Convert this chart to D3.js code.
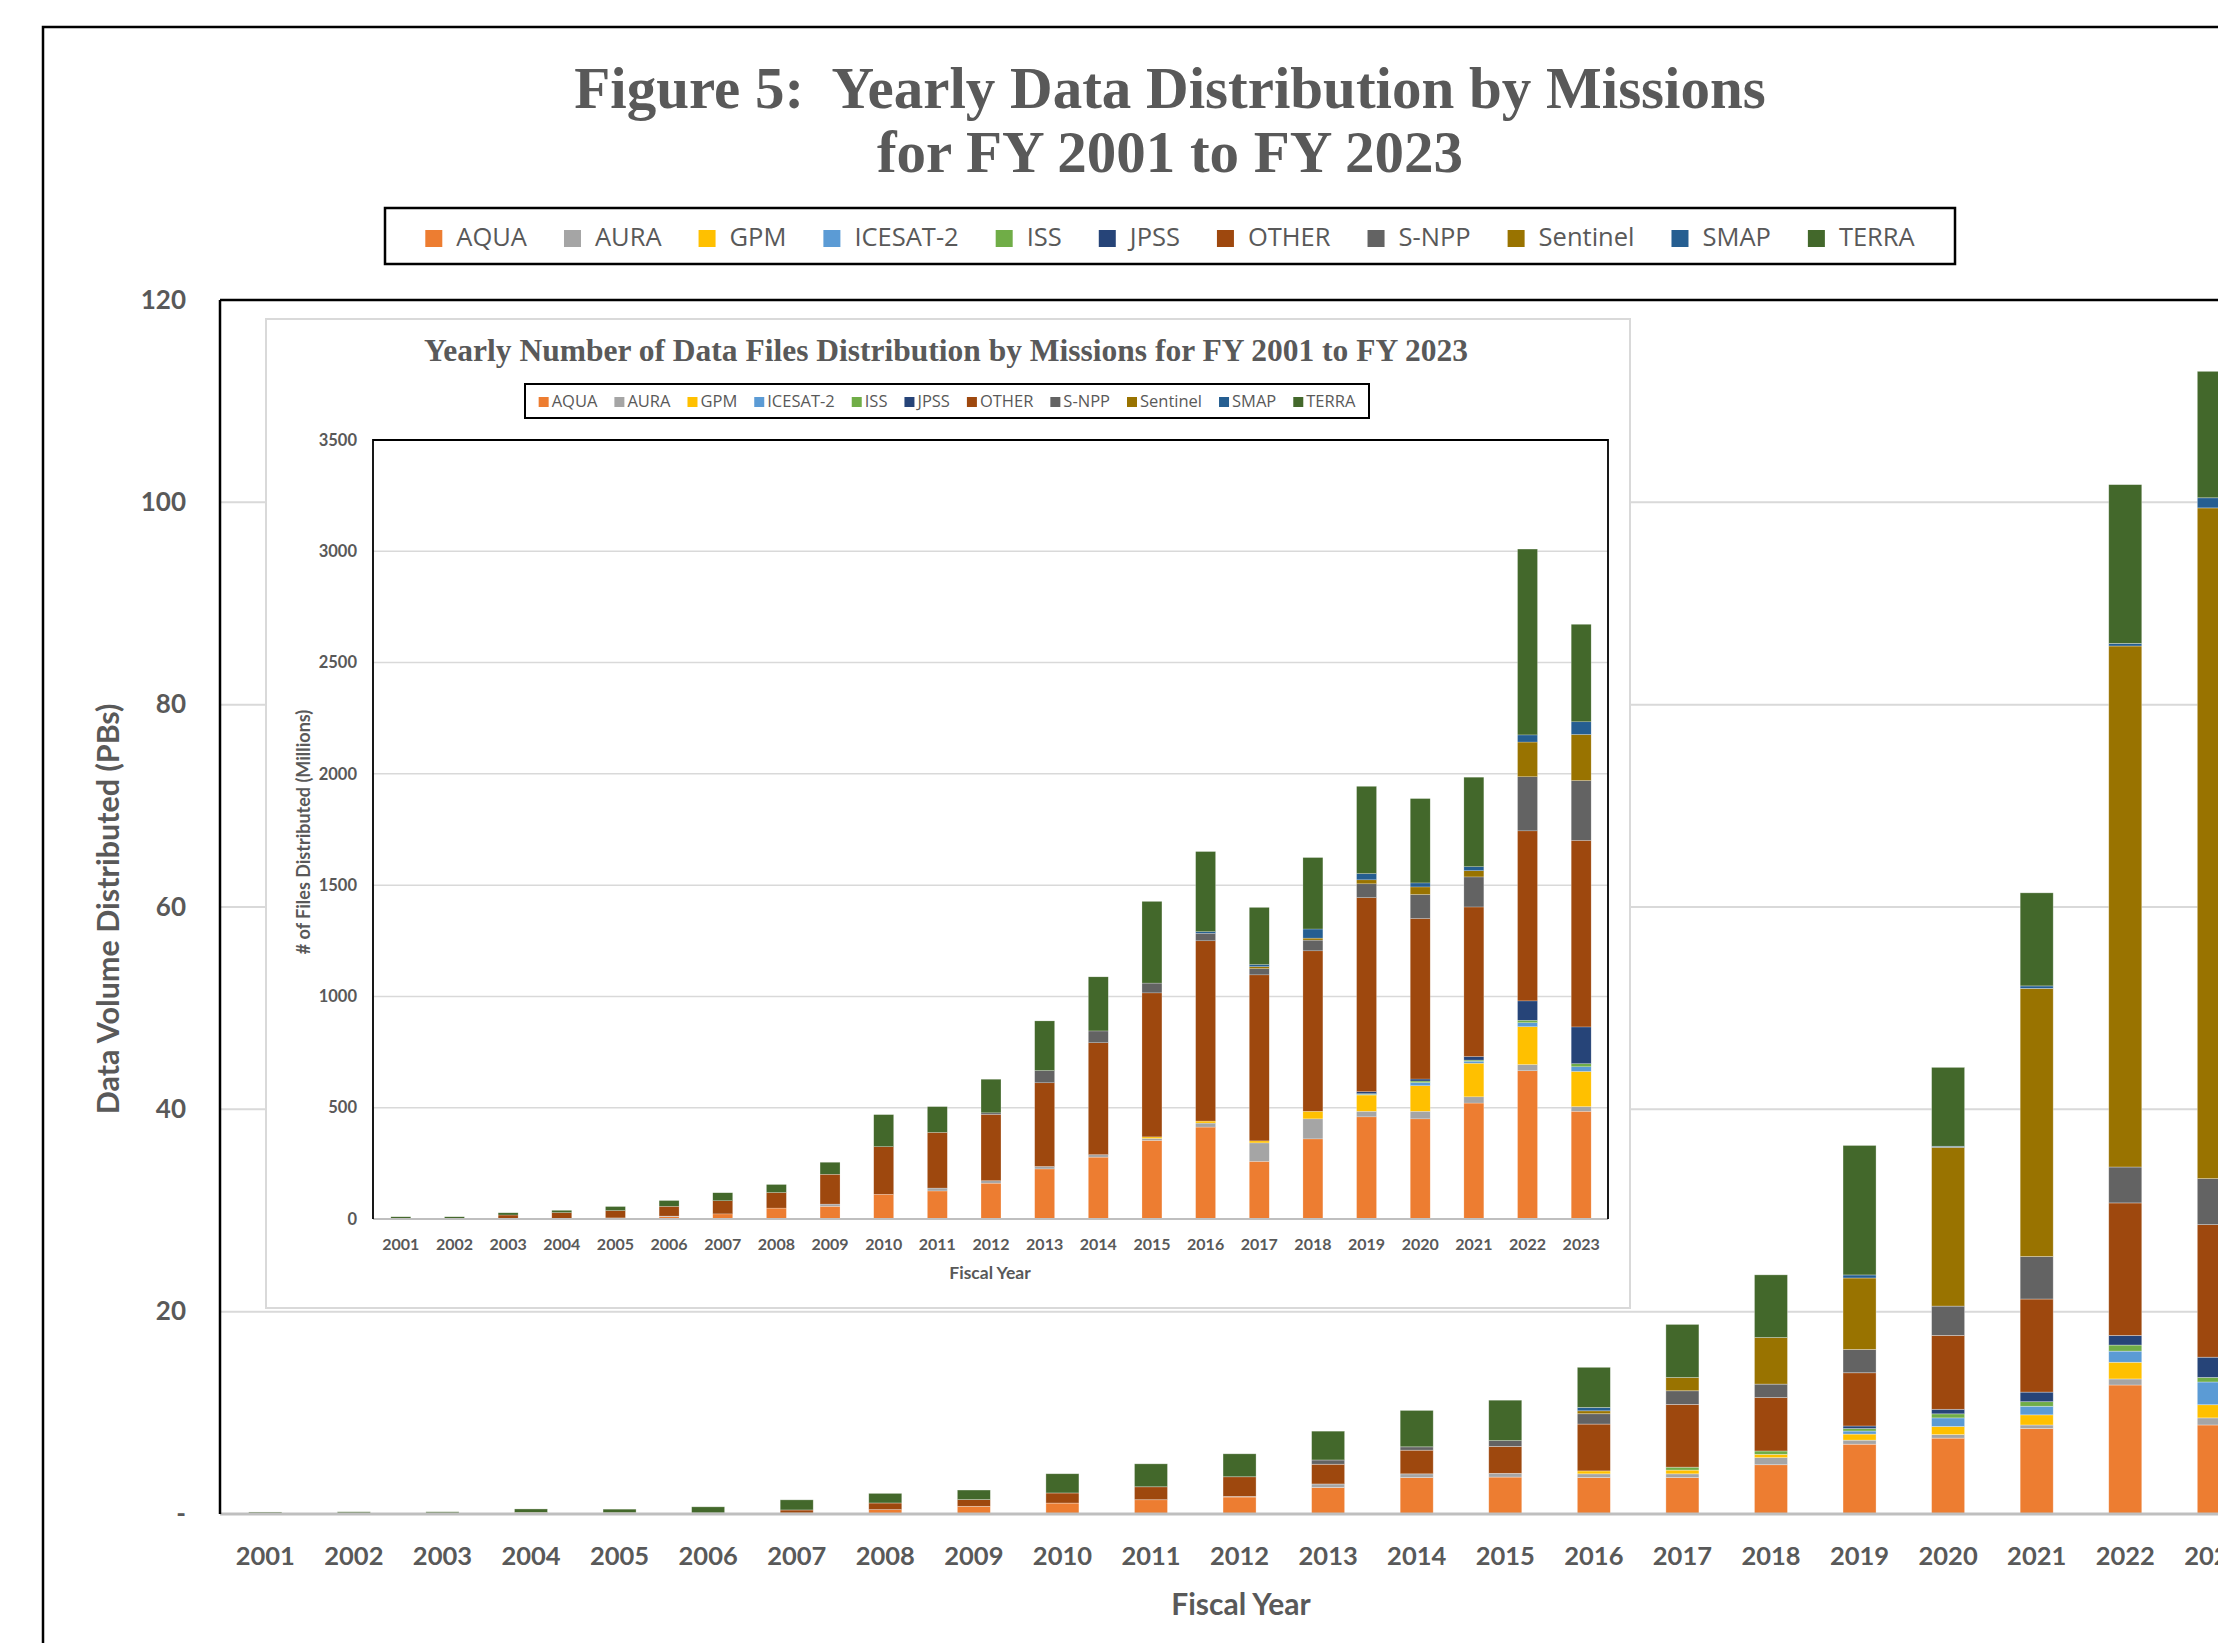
<!DOCTYPE html>
<html><head><meta charset="utf-8">
<script src="https://cdn.jsdelivr.net/npm/d3@7"></script>
<style>body{margin:0;background:#fff} svg{display:block}</style>
</head><body>
<script>
// ---------- DATA ----------
const years = ["2001","2002","2003","2004","2005","2006","2007","2008","2009","2010","2011","2012","2013","2014","2015","2016","2017","2018","2019","2020","2021","2022","2023"];
const missions = ["AQUA","AURA","GPM","ICESAT-2","ISS","JPSS","OTHER","S-NPP","Sentinel","SMAP","TERRA"];
const missionColors = ["#ED7D31","#A5A5A5","#FFC000","#5B9BD5","#70AD47","#264478","#9E480E","#636363","#997300","#255E91","#43682B"];

// Data volume distributed (PBs)
const volAQUA     = [0.05,0.05,0.05,0.1,0.08,0.06,0.1,0.43,0.76,1.08,1.41,1.68,2.62,3.6,3.65,3.6,3.6,4.87,6.9,7.5,8.45,12.75,8.8];
const volAURA     = [0,0,0,0,0,0,0,0,0,0,0,0.05,0.35,0.37,0.37,0.37,0.37,0.7,0.4,0.35,0.35,0.6,0.7];
const volGPM      = [0,0,0,0,0,0,0,0,0,0,0,0,0,0,0,0.29,0.37,0.33,0.6,0.8,1.0,1.65,1.3];
const volICESAT2  = [0,0,0,0,0,0,0,0,0,0,0,0,0,0,0,0,0,0,0.3,0.85,0.85,1.1,2.25];
const volISS      = [0,0,0,0,0,0,0,0,0,0,0,0,0,0,0,0,0.29,0.33,0.25,0.4,0.45,0.6,0.45];
const volJPSS     = [0,0,0,0,0,0,0,0,0,0,0,0,0,0,0,0,0,0,0.25,0.45,0.95,0.95,2.0];
const volOTHER    = [0.05,0.05,0.05,0.05,0.05,0.05,0.3,0.66,0.66,1.0,1.28,1.95,1.95,2.34,2.66,4.63,6.2,5.28,5.26,7.3,9.2,13.1,13.1];
const volSNPP     = [0,0,0,0,0,0,0,0,0,0,0,0,0.42,0.33,0.57,1.02,1.35,1.33,2.3,2.9,4.2,3.55,4.55];
const volSentinel = [0,0,0,0,0,0,0,0,0,0,0,0,0,0,0,0.29,1.31,4.6,7.07,15.7,26.5,51.5,66.3];
const volSMAP     = [0,0,0,0,0,0,0,0,0,0,0,0,0,0,0,0.33,0,0,0.3,0.1,0.25,0.25,1.0];
const volTERRA    = [0.1,0.12,0.12,0.35,0.35,0.6,1.0,0.95,0.95,1.9,2.27,2.27,2.85,3.6,4.0,3.97,5.25,6.2,12.8,7.8,9.2,15.7,12.5];

// Number of data files distributed (millions)
const filAQUA     = [2,2,3,3,5,10,23,49,57,111,126,161,225,278,353,413,259,360,459,450,521,666,484];
const filAURA     = [0,0,0,0,0,3,0,0,10,0,13,11,11,11,9,18,83,90,25,34,28,28,21];
const filGPM      = [0,0,0,0,0,0,0,0,0,0,0,0,0,0,7,9,9,34,73,115,151,170,158];
const filICESAT2  = [0,0,0,0,0,0,0,0,0,0,0,0,0,0,0,0,0,0,3,14,9,18,21];
const filISS      = [0,0,0,0,0,0,0,0,0,0,0,0,0,0,0,0,0,0,3,7,5,11,14];
const filJPSS     = [0,0,0,0,0,0,0,0,0,0,0,0,0,0,0,0,0,0,9,9,16,87,165];
const filOTHER    = [1,1,15,26,33,44,59,70,134,214,250,298,376,503,647,810,746,721,872,721,672,764,838];
const filSNPP     = [0,0,0,0,0,0,0,0,0,0,0,7,55,53,44,34,28,48,62,108,135,243,269];
const filSentinel = [0,0,0,0,0,0,0,0,0,0,0,0,0,0,0,0,9,9,18,34,28,156,207];
const filSMAP     = [0,0,0,0,0,0,0,0,0,0,0,0,0,0,0,7,9,41,28,18,18,32,57];
const filTERRA    = [7,7,10,10,18,26,36,36,54,144,116,151,223,243,367,360,257,321,392,379,402,835,438];

const volumeTicks = [0,20,40,60,80,100,120];
const fileTicks = [0,500,1000,1500,2000,2500,3000,3500];

// ---------- BUILD ----------
const volSeries = [volAQUA,volAURA,volGPM,volICESAT2,volISS,volJPSS,volOTHER,volSNPP,volSentinel,volSMAP,volTERRA];
const filSeries = [filAQUA,filAURA,filGPM,filICESAT2,filISS,filJPSS,filOTHER,filSNPP,filSentinel,filSMAP,filTERRA];
function rows(series){ return years.map((y,i)=>{ const r={year:y}; missions.forEach((m,k)=>r[m]=series[k][i]); return r; }); }
const color = d3.scaleOrdinal().domain(missions).range(missionColors);
const stack = d3.stack().keys(missions);

const W=2218,H=1643, TXT="#595959";
const svg = d3.select("body").append("svg").attr("width",W).attr("height",H);

// outer frame
svg.append("rect").attr("x",43).attr("y",27).attr("width",2400).attr("height",1800)
  .attr("fill","none").attr("stroke","#000").attr("stroke-width",2.5);

// title
const title = svg.append("text").attr("text-anchor","middle").attr("fill",TXT)
  .style("font-family","'Liberation Serif','Times New Roman',serif").style("font-weight","bold").style("font-size","59px");
title.append("tspan").attr("x",1170).attr("y",108).text("Figure 5:\u00A0 Yearly Data Distribution by Missions");
title.append("tspan").attr("x",1170).attr("y",172).text("for FY 2001 to FY 2023");

function legend(g, x0, x1, yb, sw, swY, gapT, gapI, fs){
  const items = g.selectAll("g.it").data(missions).join("g").attr("class","it");
  items.append("rect").attr("width",sw).attr("height",sw).attr("y",swY).attr("fill",d=>color(d));
  items.append("text").attr("x",sw+gapT).attr("y",yb).text(d=>d).attr("fill",TXT)
    .style("font-family","'Open Sans',sans-serif").style("font-size",fs+"px");
  let x=0; const pos=[];
  items.each(function(){ const w=d3.select(this).select("text").node().getComputedTextLength(); pos.push(x); x+=sw+gapT+w+gapI; });
  const total = x-gapI, start = (x0+x1)/2 - total/2;
  items.attr("transform",(d,i)=>`translate(${start+pos[i]},0)`);
}

// main legend
svg.append("rect").attr("x",385).attr("y",208).attr("width",1570).attr("height",56)
  .attr("fill","#fff").attr("stroke","#000").attr("stroke-width",2.5);
legend(svg.append("g"),385,1955,246,17,230,14,37,25.5);

// ---------- MAIN CHART ----------
const mL=220, mT=300, mB=1514;
const xM = d3.scaleBand().domain(years).range([mL+1, mL+1+23*88.57]).paddingInner(0.627).paddingOuter(0.3135);
const yM = d3.scaleLinear().domain([0,120]).range([mB,mT]);

svg.append("g").selectAll("line").data(volumeTicks.filter(t=>t>0&&t<120)).join("line")
  .attr("x1",mL).attr("x2",W).attr("y1",d=>yM(d)).attr("y2",d=>yM(d))
  .attr("stroke","#d9d9d9").attr("stroke-width",2);

svg.append("g").selectAll("g").data(stack(rows(volSeries))).join("g").attr("fill",d=>color(d.key))
  .selectAll("rect").data(d=>d).join("rect")
  .attr("x",d=>xM(d.data.year)).attr("width",xM.bandwidth())
  .attr("y",d=>yM(d[1])).attr("height",d=>Math.max(0,yM(d[0])-yM(d[1])))
  .attr("stroke","#fff").attr("stroke-width",0.7).attr("stroke-opacity",0.45);

svg.append("line").attr("x1",mL).attr("x2",W).attr("y1",mB).attr("y2",mB).attr("stroke","#bfbfbf").attr("stroke-width",3);
svg.append("line").attr("x1",mL).attr("x2",W).attr("y1",mT).attr("y2",mT).attr("stroke","#000").attr("stroke-width",2.5);
svg.append("line").attr("x1",mL).attr("x2",mL).attr("y1",mT).attr("y2",mB).attr("stroke","#000").attr("stroke-width",2.5);

const axXM = svg.append("g").attr("transform",`translate(0,${mB})`).call(d3.axisBottom(xM).tickSize(0).tickPadding(33));
axXM.select(".domain").remove();
axXM.selectAll("text").attr("fill",TXT).style("font-family","Lato,sans-serif").style("font-weight","bold").style("font-size","25.5px");

const axYM = svg.append("g").attr("transform",`translate(${mL},0)`)
  .call(d3.axisLeft(yM).tickValues(volumeTicks).tickSize(0).tickPadding(34).tickFormat(d=>d===0?"-":d));
axYM.select(".domain").remove();
axYM.selectAll("text").attr("fill",TXT).style("font-family","Lato,sans-serif").style("font-weight","bold").style("font-size","26px");

svg.append("text").attr("x",1241).attr("y",1615).attr("text-anchor","middle").attr("fill",TXT)
  .style("font-family","Lato,sans-serif").style("font-weight","bold").style("font-size","30px").text("Fiscal Year");
svg.append("text").attr("transform","translate(119,909) rotate(-90)").attr("text-anchor","middle").attr("fill",TXT)
  .style("font-family","Lato,sans-serif").style("font-weight","bold").style("font-size","30.5px").text("Data Volume Distributed (PBs)");

// ---------- INSET ----------
const ins = svg.append("g");
ins.append("rect").attr("x",266).attr("y",319).attr("width",1364).attr("height",989)
  .attr("fill","#fff").attr("stroke","#d9d9d9").attr("stroke-width",2);
ins.append("text").attr("x",946).attr("y",361).attr("text-anchor","middle").attr("fill",TXT)
  .style("font-family","'Liberation Serif','Times New Roman',serif").style("font-weight","bold").style("font-size","31.5px")
  .text("Yearly Number of Data Files Distribution by Missions for FY 2001 to FY 2023");
ins.append("rect").attr("x",525).attr("y",384).attr("width",844).attr("height",34)
  .attr("fill","#fff").attr("stroke","#000").attr("stroke-width",2);
legend(ins.append("g"),525,1369,407,10,397,3,17,16.5);

const iL=373, iR=1608, iT=440, iB=1219;
const xI = d3.scaleBand().domain(years).range([iL+1,iR]).paddingInner(0.628).paddingOuter(0.314);
const yI = d3.scaleLinear().domain([0,3500]).range([iB,iT]);

ins.append("g").selectAll("line").data(fileTicks.filter(t=>t>0&&t<3500)).join("line")
  .attr("x1",iL).attr("x2",iR).attr("y1",d=>yI(d)).attr("y2",d=>yI(d))
  .attr("stroke","#d9d9d9").attr("stroke-width",1.5);

ins.append("g").selectAll("g").data(stack(rows(filSeries))).join("g").attr("fill",d=>color(d.key))
  .selectAll("rect").data(d=>d).join("rect")
  .attr("x",d=>xI(d.data.year)).attr("width",xI.bandwidth())
  .attr("y",d=>yI(d[1])).attr("height",d=>Math.max(0,yI(d[0])-yI(d[1])))
  .attr("stroke","#fff").attr("stroke-width",0.5).attr("stroke-opacity",0.45);

ins.append("line").attr("x1",iL).attr("x2",iR).attr("y1",iB).attr("y2",iB).attr("stroke","#bfbfbf").attr("stroke-width",2);
ins.append("path").attr("d",`M${iL},${iB}V${iT}H${iR}V${iB}`).attr("fill","none").attr("stroke","#000").attr("stroke-width",1.8);

const axXI = ins.append("g").attr("transform",`translate(0,${iB})`).call(d3.axisBottom(xI).tickSize(0).tickPadding(20));
axXI.select(".domain").remove();
axXI.selectAll("text").attr("fill",TXT).style("font-family","Lato,sans-serif").style("font-weight","bold").style("font-size","16px");

const axYI = ins.append("g").attr("transform",`translate(${iL},0)`)
  .call(d3.axisLeft(yI).tickValues(fileTicks).tickSize(0).tickPadding(16).tickFormat(d3.format("d")));
axYI.select(".domain").remove();
axYI.selectAll("text").attr("fill",TXT).style("font-family","Lato,sans-serif").style("font-weight","bold").style("font-size","16.5px");

ins.append("text").attr("x",990).attr("y",1279).attr("text-anchor","middle").attr("fill",TXT)
  .style("font-family","Lato,sans-serif").style("font-weight","bold").style("font-size","17.5px").text("Fiscal Year");
ins.append("text").attr("transform","translate(310,832) rotate(-90)").attr("text-anchor","middle").attr("fill",TXT)
  .style("font-family","Lato,sans-serif").style("font-weight","bold").style("font-size","18px").text("# of Files Distributed (Millions)");
</script>
</body></html>
